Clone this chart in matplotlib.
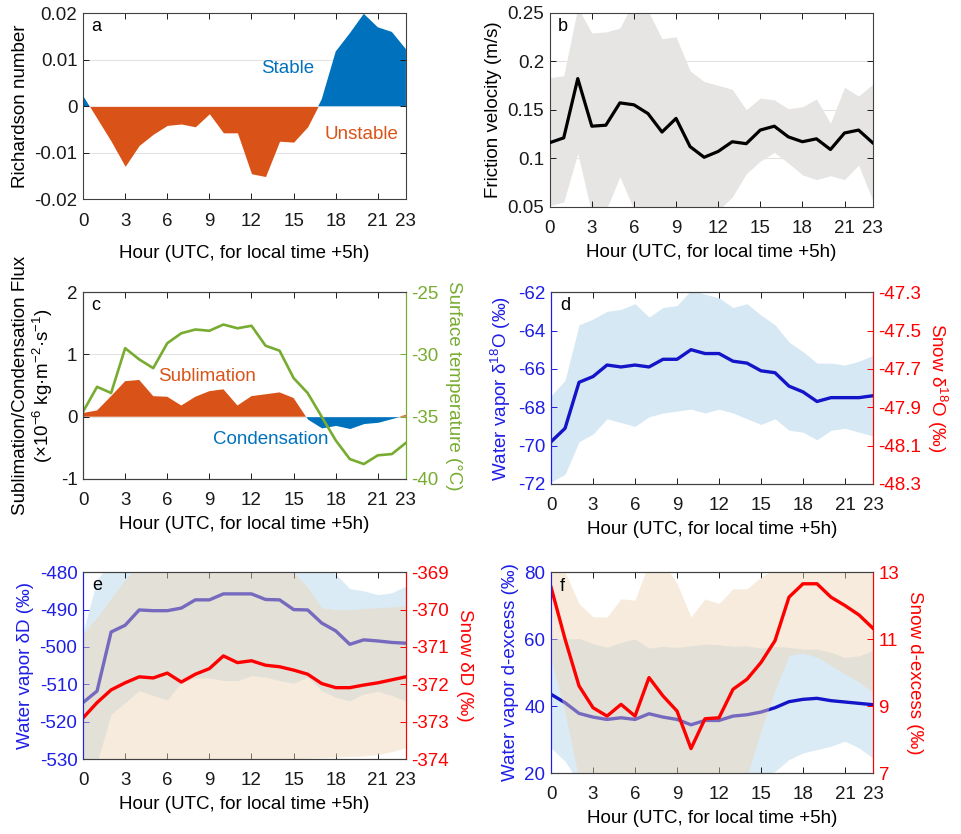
import numpy as np
import matplotlib
matplotlib.use('Agg')
import matplotlib.pyplot as plt
from matplotlib.ticker import FuncFormatter

plt.rcParams['font.family'] = ['Liberation Sans', 'DejaVu Sans']
plt.rcParams['mathtext.fontset'] = 'custom'
plt.rcParams['mathtext.rm'] = 'Liberation Sans'
plt.rcParams['mathtext.it'] = 'Liberation Sans:italic'
plt.rcParams['axes.unicode_minus'] = False

hours = np.arange(24)
xticks = [0, 3, 6, 9, 12, 15, 18, 21, 23]
xlabel = 'Hour (UTC, for local time +5h)'

# (a) bulk Richardson number
ri = [0.0023, -0.0026, -0.0075, -0.0129, -0.0084, -0.0060, -0.0041, -0.0038,
      -0.0044, -0.0016, -0.0057, -0.0057, -0.0145, -0.0151, -0.0075, -0.0077,
      -0.0044, 0.0015, 0.0118, 0.0157, 0.0199, 0.0170, 0.0160, 0.0123]

# (b) friction velocity, mean and spread
ustar = [0.116, 0.121, 0.182, 0.133, 0.134, 0.157, 0.155, 0.146, 0.127, 0.141,
         0.112, 0.101, 0.107, 0.117, 0.115, 0.129, 0.133, 0.122, 0.117, 0.120,
         0.109, 0.126, 0.129, 0.116]
ustar_hi = [0.183, 0.185, 0.255, 0.229, 0.230, 0.234, 0.262, 0.252, 0.223, 0.225,
            0.190, 0.179, 0.175, 0.171, 0.150, 0.162, 0.160, 0.151, 0.153, 0.161,
            0.136, 0.173, 0.164, 0.176]
ustar_lo = [0.051, 0.055, 0.105, 0.043, 0.046, 0.081, 0.047, 0.040, 0.038, 0.040,
            0.038, 0.040, 0.046, 0.060, 0.084, 0.097, 0.106, 0.095, 0.083, 0.078,
            0.082, 0.078, 0.093, 0.057]

# (c) sublimation/condensation flux and surface temperature
flux = [0.06, 0.10, 0.33, 0.57, 0.59, 0.33, 0.32, 0.18, 0.32, 0.41, 0.44, 0.18,
        0.33, 0.36, 0.39, 0.30, -0.04, -0.18, -0.14, -0.19, -0.11, -0.09, -0.03, 0.03]
tsurf = [-34.6, -32.6, -33.1, -29.5, -30.4, -31.1, -29.1, -28.3, -28.0, -28.1,
         -27.6, -27.9, -27.7, -29.3, -29.7, -31.9, -33.1, -35.0, -36.9, -38.4,
         -38.8, -38.1, -38.0, -37.1]

# (d) vapour d18O
d18o = [-69.8, -69.1, -66.7, -66.4, -65.8, -65.9, -65.8, -65.9, -65.5, -65.5,
        -65.0, -65.2, -65.2, -65.6, -65.7, -66.1, -66.2, -66.9, -67.2, -67.7,
        -67.5, -67.5, -67.5, -67.4]
d18o_hi = [-67.4, -66.6, -63.7, -63.4, -63.0, -62.9, -62.6, -63.3, -62.8, -62.7,
           -61.9, -62.1, -62.3, -62.8, -62.6, -63.2, -63.7, -64.6, -65.1, -65.7,
           -65.7, -65.8, -65.6, -65.3]
d18o_lo = [-71.9, -71.5, -69.8, -69.4, -68.6, -68.8, -69.0, -68.5, -68.3, -68.2,
           -68.1, -68.3, -68.1, -68.3, -68.6, -68.9, -68.6, -69.2, -69.3, -69.7,
           -69.2, -69.1, -69.3, -69.5]

# (e) vapour dD and snow dD
dd_vap = [-514.9, -511.8, -496.0, -494.2, -490.1, -490.3, -490.3, -489.6, -487.4,
          -487.4, -485.8, -485.8, -485.8, -487.3, -487.4, -490.0, -490.1, -493.6,
          -495.7, -499.3, -498.1, -498.4, -498.8, -499.0]
dd_vap_hi = [-496.0, -482.0, -477.0, -477.0, -477.0, -477.0, -477.0, -477.0, -477.0,
             -477.0, -477.0, -477.0, -477.0, -477.0, -477.0, -477.0, -477.0, -478.0,
             -480.5, -484.4, -485.0, -486.0, -485.5, -483.7]
dd_vap_lo = [-532.0, -531.0, -518.0, -514.9, -511.7, -513.0, -514.2, -509.5, -508.3,
             -508.3, -509.0, -509.0, -507.7, -508.1, -509.0, -509.7, -508.1, -511.7,
             -513.5, -514.4, -512.6, -511.9, -513.0, -514.4]
dd_snow = [-372.90, -372.49, -372.15, -371.96, -371.80, -371.83, -371.70, -371.94,
           -371.73, -371.58, -371.24, -371.42, -371.37, -371.49, -371.53, -371.62,
           -371.73, -371.98, -372.09, -372.09, -372.02, -371.96, -371.88, -371.80]
dd_snow_hi = [-370.65, -370.20, -369.70, -369.20, -368.80, -368.80, -368.80, -368.80,
              -368.80, -368.80, -368.80, -368.80, -368.80, -368.80, -368.80, -369.00,
              -369.40, -369.95, -370.00, -370.00, -369.97, -369.95, -369.93, -369.90]
dd_snow_lo = [-374.30, -374.30, -374.30, -374.30, -374.30, -374.30, -374.30, -374.30,
              -374.30, -374.30, -374.30, -374.30, -374.30, -374.30, -374.30, -374.05,
              -373.98, -373.96, -373.95, -373.93, -373.92, -373.88, -373.80, -373.70]

# (f) vapour and snow d-excess
dx_vap = [43.5, 41.0, 37.8, 36.7, 36.0, 36.5, 36.0, 37.7, 36.7, 36.0, 34.4, 35.7,
          35.7, 37.0, 37.4, 38.2, 39.5, 41.3, 42.0, 42.3, 41.6, 41.2, 40.8, 40.4]
dx_vap_hi = [60.0, 60.0, 60.2, 58.6, 57.5, 59.0, 60.0, 57.3, 57.8, 57.5, 58.0, 58.5,
             58.3, 57.8, 58.0, 57.3, 57.8, 57.5, 57.0, 57.0, 56.0, 54.5, 55.0, 56.5]
dx_vap_lo = [27.5, 23.5, 17.0, 15.0, 15.0, 15.0, 15.0, 15.0, 15.0, 15.0, 15.0, 15.0,
             15.0, 15.0, 15.0, 19.0, 20.5, 24.0, 26.0, 27.0, 28.0, 29.5, 27.5, 24.5]
dx_snow = [12.55, 11.00, 9.60, 8.95, 8.70, 9.05, 8.70, 9.85, 9.30, 8.85, 7.73, 8.62,
           8.65, 9.50, 9.80, 10.30, 10.95, 12.25, 12.65, 12.65, 12.25, 12.00, 11.72, 11.32]
dx_snow_hi = [13.30, 13.00, 12.06, 11.66, 11.66, 12.20, 12.16, 13.30, 13.30, 12.66,
              11.66, 12.20, 12.06, 12.50, 12.50, 12.85, 13.10, 13.30, 13.30, 13.30,
              13.30, 13.30, 13.30, 13.30]
dx_snow_lo = [10.40, 8.80, 6.80, 6.80, 6.80, 6.80, 6.80, 6.80, 6.80, 6.80, 6.80, 6.80,
              6.80, 6.80, 6.90, 8.26, 9.46, 10.51, 10.58, 10.46, 10.21, 9.96, 9.71, 9.41]

c_blue = '#0072BD'
c_orange = '#D95319'
c_green = '#77AC30'
c_vap = '#1414C8'
c_left = '#1E1EE6'
c_red = '#FF0000'
axcol = '#404040'
fs = 13.5

fmt = FuncFormatter(lambda v, p: '%g' % round(v, 4))


def base_axes(rect, labelpad=5):
    ax = fig.add_axes(rect)
    ax.set_xlim(0, 23)
    ax.set_xticks(xticks)
    ax.set_xlabel(xlabel, fontsize=fs, labelpad=labelpad)
    ax.tick_params(axis='both', direction='in', length=4, width=0.7,
                   labelsize=fs, colors='#1a1a1a', top=True, right=True, pad=4)
    ax.tick_params(axis='x', pad=9.5)
    for s in ax.spines.values():
        s.set_color(axcol)
        s.set_linewidth(0.8)
    return ax


def hgrid(ax, vals):
    for v in vals:
        ax.axhline(v, color='#e3e3e3', lw=0.8, zorder=0)


def yy_axes(rect, letter):
    ax = base_axes(rect)
    ax.tick_params(axis='y', right=False, colors=c_left)
    ax.spines['left'].set_color(c_left)
    ax2 = ax.twinx()
    ax2.tick_params(axis='y', direction='in', length=4, width=0.7,
                    labelsize=fs, colors=c_red, pad=4)
    for s in ax2.spines.values():
        s.set_color(axcol)
        s.set_linewidth(0.8)
    ax2.spines['left'].set_color(c_left)
    ax2.spines['right'].set_color(c_red)
    ax2.text(0.028, 0.93, letter, transform=ax2.transAxes, fontsize=fs - 0.5,
             va='center', ha='left', zorder=10)
    return ax, ax2


fig = plt.figure(figsize=(9.61, 8.34), dpi=100)

# ---- a
ax = base_axes([0.0864, 0.761, 0.336, 0.223], labelpad=11.5)
hgrid(ax, [-0.01, 0.01])
ri_a = np.array(ri)
ax.fill_between(hours, ri_a, 0, where=ri_a >= 0, interpolate=True,
                color=c_blue, lw=0)
ax.fill_between(hours, ri_a, 0, where=ri_a <= 0, interpolate=True,
                color=c_orange, lw=0)
ax.set_ylim(-0.02, 0.02)
ax.set_yticks([-0.02, -0.01, 0, 0.01, 0.02])
ax.yaxis.set_major_formatter(fmt)
ax.set_ylabel('Richardson number', fontsize=fs)
ax.text(14.6, 0.0082, 'Stable', color=c_blue, fontsize=fs, ha='center', va='center')
ax.text(19.8, -0.0061, 'Unstable', color=c_orange, fontsize=fs, ha='center', va='center')
ax.text(0.025, 0.93, 'a', transform=ax.transAxes, fontsize=fs - 0.5, va='center')

# ---- b
ax = base_axes([0.572, 0.752, 0.336, 0.233])
hgrid(ax, [0.1, 0.15, 0.2])
ax.fill_between(hours, ustar_lo, ustar_hi, color='#e6e5e3', lw=0, zorder=1)
ax.plot(hours, ustar, color='black', lw=2.3, zorder=3)
ax.set_ylim(0.05, 0.25)
ax.set_yticks([0.05, 0.1, 0.15, 0.2, 0.25])
ax.yaxis.set_major_formatter(fmt)
ax.set_ylabel('Friction velocity (m/s)', fontsize=fs)
ax.text(0.025, 0.93, 'b', transform=ax.transAxes, fontsize=fs - 0.5, va='center')

# ---- c
ax = base_axes([0.0864, 0.4257, 0.336, 0.224])
ax.tick_params(axis='y', right=False)
ax.spines['right'].set_color(c_green)
hgrid(ax, [0, 1])
fl = np.array(flux)
ax.fill_between(hours, fl, 0, where=fl >= 0, interpolate=True, color=c_orange, lw=0)
ax.fill_between(hours, fl, 0, where=fl <= 0, interpolate=True, color=c_blue, lw=0)
ax.set_ylim(-1, 2)
ax.set_yticks([-1, 0, 1, 2])
ax.set_ylabel('Sublimation/Condensation Flux\n'
              r'(×10$^{-6}$ kg·m$^{-2}$·s$^{-1}$)', fontsize=fs, linespacing=1.1)
ax.text(8.8, 0.65, 'Sublimation', color=c_orange, fontsize=fs, ha='center', va='center')
ax.text(13.4, -0.37, 'Condensation', color=c_blue, fontsize=fs, ha='center', va='center')
ax.text(0.025, 0.93, 'c', transform=ax.transAxes, fontsize=fs - 0.5, va='center')
axt = ax.twinx()
axt.plot(hours, tsurf, color=c_green, lw=1.9)
axt.set_ylim(-40, -25)
axt.set_yticks([-40, -35, -30, -25])
axt.tick_params(axis='y', direction='in', length=4, width=0.7,
                labelsize=fs, colors=c_green, pad=4)
for s in axt.spines.values():
    s.set_color(axcol)
    s.set_linewidth(0.8)
axt.spines['right'].set_color(c_green)
axt.set_ylabel('Surface temperature (°C)', fontsize=fs, color=c_green,
               rotation=270, labelpad=17)

# ---- d
ax, ax2 = yy_axes([0.5734, 0.4197, 0.335, 0.230], 'd')
ax.fill_between(hours, d18o_lo, d18o_hi, color=c_blue, alpha=0.16, lw=0)
ax.plot(hours, d18o, color=c_vap, lw=2.4)
ax.set_ylim(-72, -62)
ax.set_yticks(np.arange(-72, -61, 2))
ax.set_ylabel('Water vapor δ$^{18}$O (‰)', fontsize=fs, color=c_left)
ax2.set_ylim(-48.3, -47.3)
ax2.set_yticks([-48.3, -48.1, -47.9, -47.7, -47.5, -47.3])
ax2.yaxis.set_major_formatter(FuncFormatter(lambda v, p: '%.1f' % v))
ax2.set_ylabel('Snow δ$^{18}$O (‰)', fontsize=fs, color=c_red,
               rotation=270, labelpad=20)

# ---- e
ax, ax2 = yy_axes([0.0864, 0.0899, 0.336, 0.224], 'e')
ax.fill_between(hours, dd_vap_lo, dd_vap_hi, color=c_blue, alpha=0.14, lw=0)
ax.plot(hours, dd_vap, color=c_vap, lw=2.4)
ax.set_ylim(-530, -480)
ax.set_yticks(np.arange(-530, -479, 10))
ax.set_ylabel('Water vapor δD (‰)', fontsize=fs, color=c_left)
ax2.fill_between(hours, dd_snow_lo, dd_snow_hi, color='#edd4b3', alpha=0.45, lw=0)
ax2.plot(hours, dd_snow, color=c_red, lw=2.4)
ax2.set_ylim(-374, -369)
ax2.set_yticks(np.arange(-374, -368, 1))
ax2.set_ylabel('Snow δD (‰)', fontsize=fs, color=c_red, rotation=270, labelpad=17)

# ---- f
ax, ax2 = yy_axes([0.5734, 0.0731, 0.335, 0.241], 'f')
ax.fill_between(hours, dx_vap_lo, dx_vap_hi, color=c_blue, alpha=0.14, lw=0)
ax.plot(hours, dx_vap, color=c_vap, lw=2.4)
ax.set_ylim(20, 80)
ax.set_yticks([20, 40, 60, 80])
ax.set_ylabel('Water vapor d-excess (‰)', fontsize=fs, color=c_left)
ax2.fill_between(hours, dx_snow_lo, dx_snow_hi, color='#edd4b3', alpha=0.45, lw=0)
ax2.plot(hours, dx_snow, color=c_red, lw=2.4)
ax2.set_ylim(7, 13)
ax2.set_yticks([7, 9, 11, 13])
ax2.set_ylabel('Snow d-excess (‰)', fontsize=fs, color=c_red, rotation=270, labelpad=17)

fig.savefig('out.png', dpi=100)
